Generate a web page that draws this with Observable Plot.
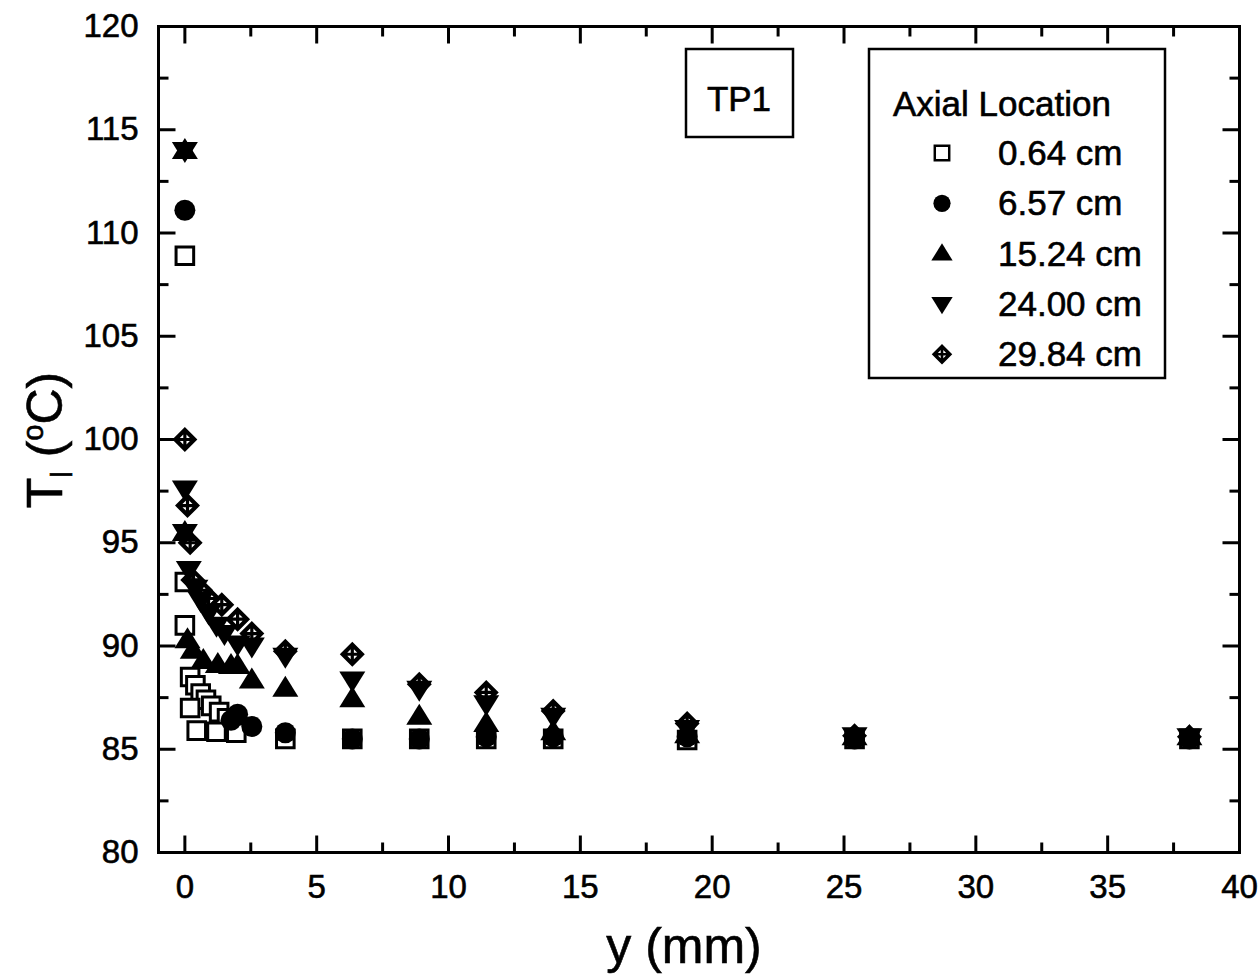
<!DOCTYPE html>
<html><head><meta charset="utf-8">
<script src="https://cdn.jsdelivr.net/npm/d3@7"></script>
<script src="https://cdn.jsdelivr.net/npm/@observablehq/plot@0.6"></script>
<style>
body{margin:0;background:#fff;}
#wrap{width:1260px;height:979px;}
svg text{stroke:#000;stroke-width:0.6px;}
</style></head><body><div id="wrap"></div>
<script>
// ---- data (y in mm, T_l in °C) ----
const seriesNames = ["0.64 cm", "6.57 cm", "15.24 cm", "24.00 cm", "29.84 cm"];

const sqY = [0, 0, 0, 0.2, 0.4, 0.6, 0.8, 1.0, 1.3, 1.6, 0.2, 0.45, 1.2, 1.95, 3.81, 6.35, 8.89, 11.43, 13.97, 19.05, 25.4, 38.1];
const sqT = [108.9, 93.1, 91.0, 88.5, 88.1, 87.7, 87.4, 87.1, 86.8, 86.5, 87.0, 85.9, 85.85, 85.8, 85.5, 85.5, 85.5, 85.5, 85.5, 85.45, 85.5, 85.5];

const ciY = [0, 1.75, 2.0, 2.54, 3.81, 6.35, 8.89, 11.43, 13.97, 19.05, 25.4, 38.1];
const ciT = [111.1, 86.4, 86.7, 86.1, 85.8, 85.5, 85.5, 85.6, 85.6, 85.6, 85.5, 85.5];

const upY = [0, 0, 0.1, 0.3, 0.7, 1.25, 1.75, 2.0, 2.54, 3.81, 6.35, 8.89, 11.43, 13.97, 19.05, 25.4, 38.1];
const upT = [114.0, 95.5, 90.3, 89.8, 89.3, 89.1, 89.05, 89.05, 88.35, 87.95, 87.45, 86.6, 86.25, 85.85, 85.7, 85.6, 85.6];

const dnY = [0, 0, 0, 0.15, 0.4, 0.6, 0.9, 1.2, 1.5, 2.0, 2.54, 3.81, 6.35, 8.89, 11.43, 13.97, 19.05, 25.4, 38.1];
const dnT = [114.0, 97.6, 95.5, 93.7, 92.8, 92.2, 91.6, 91.0, 90.6, 90.1, 90.0, 89.5, 88.35, 87.9, 87.2, 86.6, 86.0, 85.65, 85.6];

const dmY = [0, 0.1, 0.2, 0.3, 0.6, 0.9, 1.4, 2.0, 2.54, 3.81, 6.35, 8.89, 11.43, 13.97, 19.05, 25.4, 38.1];
const dmT = [100.0, 96.8, 95.0, 93.2, 92.7, 92.3, 92.0, 91.3, 90.6, 89.75, 89.6, 88.15, 87.75, 86.85, 86.25, 85.65, 85.6];

const xDomain = [-1, 40];
const yDomain = [80, 120];
const xTickValues = [0, 5, 10, 15, 20, 25, 30, 35, 40];
const xMinorValues = [2.5, 7.5, 12.5, 17.5, 22.5, 27.5, 32.5, 37.5];
const yTickValues = [80, 85, 90, 95, 100, 105, 110, 115, 120];
const yMinorValues = [82.5, 87.5, 92.5, 97.5, 102.5, 107.5, 112.5, 117.5];

const xLabel = "y (mm)";
const legendTitle = "Axial Location";
const panelLabel = "TP1";

// ---- symbols ----
const mk = fn => ({draw(c) { fn(c); }});
const squareSym = mk(c => { const h = 8.8; c.moveTo(-h, -h); c.lineTo(h, -h); c.lineTo(h, h); c.lineTo(-h, h); c.closePath(); });
const circleSym = mk(c => { c.moveTo(10.5, 0); c.arc(0, 0, 10.5, 0, 2 * Math.PI); c.closePath(); });
const upSym = mk(c => { c.moveTo(0, -12.5); c.lineTo(13, 8.5); c.lineTo(-13, 8.5); c.closePath(); });
const downSym = mk(c => { c.moveTo(0, 12.5); c.lineTo(13, -8.5); c.lineTo(-13, -8.5); c.closePath(); });
const diamondSym = mk(c => {
  const R = 12.5, r = 6.6, g = 1.6;
  c.moveTo(0, -R); c.lineTo(R, 0); c.lineTo(0, R); c.lineTo(-R, 0); c.closePath();
  for (const [sx, sy] of [[1, -1], [1, 1], [-1, 1], [-1, -1]]) {
    let pts = [[sx * g, sy * g], [sx * g, sy * (r - g)], [sx * (r - g), sy * g]];
    let a = 0;
    for (let i = 0; i < 3; i++) { const p = pts[i], q = pts[(i + 1) % 3]; a += p[0] * q[1] - q[0] * p[1]; }
    if (a > 0) pts = [pts[0], pts[2], pts[1]];
    c.moveTo(pts[0][0], pts[0][1]); c.lineTo(pts[1][0], pts[1][1]); c.lineTo(pts[2][0], pts[2][1]); c.closePath();
  }
});
const tickSym = (dx, dy) => ({draw(c) { c.moveTo(0, 0); c.lineTo(dx, dy); }});

const rows = (ys, ts) => ys.map((y, i) => ({y, T: ts[i]}));

const series = [
  {name: seriesNames[0], data: rows(sqY, sqT), symbol: squareSym, fill: "white", stroke: "black", sw: 3},
  {name: seriesNames[4], data: rows(dmY, dmT), symbol: diamondSym, fill: "black", stroke: "none", sw: 0},
  {name: seriesNames[1], data: rows(ciY, ciT), symbol: circleSym, fill: "black", stroke: "none", sw: 0},
  {name: seriesNames[2], data: rows(upY, upT), symbol: upSym, fill: "black", stroke: "none", sw: 0},
  {name: seriesNames[3], data: rows(dnY, dnT), symbol: downSym, fill: "black", stroke: "none", sw: 0}
];

const MAJ = 17, MIN = 10;
const tk = (vals, ch, anchor, dx, dy) => Plot.dot(vals, {[ch]: d => d, frameAnchor: anchor, symbol: tickSym(dx, dy), fill: "none", stroke: "black", strokeWidth: 3});
const tickMarks = [
  tk(xTickValues, "x", "bottom", 0, -MAJ), tk(xMinorValues, "x", "bottom", 0, -MIN),
  tk(xTickValues, "x", "top", 0, MAJ), tk(xMinorValues, "x", "top", 0, MIN),
  tk(yTickValues, "y", "left", MAJ, 0), tk(yMinorValues, "y", "left", MIN, 0),
  tk(yTickValues, "y", "right", -MAJ, 0), tk(yMinorValues, "y", "right", -MIN, 0)
];

const plot = Plot.plot({
  width: 1260, height: 979,
  marginLeft: 158, marginRight: 21, marginTop: 26, marginBottom: 127,
  x: {domain: xDomain},
  y: {domain: yDomain},
  style: {fontFamily: "'Liberation Sans', Arial, Helvetica, sans-serif", fontSize: "33px", color: "black", background: "white"},
  marks: [
    Plot.axisX(xTickValues, {anchor: "bottom", tickSize: 0, tickPadding: 22, fontSize: 33, label: null}),
    Plot.axisY(yTickValues, {anchor: "left", tickSize: 0, tickPadding: 20, fontSize: 33, label: null}),
    ...series.map(s => Plot.dot(s.data, {x: "y", y: "T", symbol: s.symbol, fill: s.fill, stroke: s.stroke, strokeWidth: s.sw, r: 8})),
    ...tickMarks,
    Plot.frame({stroke: "black", strokeWidth: 3}),
    Plot.text([xLabel], {text: d => d, frameAnchor: "bottom", dx: -15, dy: 110, fontSize: 50, fill: "black"})
  ]
});
document.getElementById("wrap").appendChild(plot);

// ---- y-axis title with subscript ----
const svg = d3.select(plot);
const yt = svg.append("text")
  .attr("transform", "translate(62,440) rotate(-90)")
  .attr("text-anchor", "middle")
  .attr("font-size", 50)
  .attr("fill", "black");
yt.append("tspan").text("T");
yt.append("tspan").attr("font-size", 29).attr("dy", 10).text("l");
yt.append("tspan").attr("dy", -10).text(" (");
yt.append("tspan").attr("font-size", 29).attr("dy", -19).text("o");
yt.append("tspan").attr("dy", 19).text("C)");

// ---- TP1 box ----
const tp = svg.append("g");
tp.append("rect").attr("x", 686).attr("y", 49).attr("width", 107).attr("height", 88)
  .attr("fill", "white").attr("stroke", "black").attr("stroke-width", 2.5);
tp.append("text").attr("x", 739).attr("y", 111).attr("text-anchor", "middle")
  .attr("font-size", 35).attr("fill", "black").text(panelLabel);

// ---- legend ----
const lg = svg.append("g");
lg.append("rect").attr("x", 869).attr("y", 49).attr("width", 296).attr("height", 329)
  .attr("fill", "white").attr("stroke", "black").attr("stroke-width", 2.5);
lg.append("text").attr("x", 893).attr("y", 116).attr("text-anchor", "start")
  .attr("font-size", 35).attr("fill", "black").text(legendTitle);
const legendOrder = [series[0], series[2], series[3], series[4], series[1]];
legendOrder.forEach((s, i) => {
  const cy = 153 + i * 50.3;
  const p = d3.path(); s.symbol.draw(p, 0);
  lg.append("path").attr("d", p.toString())
    .attr("transform", `translate(942,${cy}) scale(0.82)`)
    .attr("fill", s.fill).attr("stroke", s.stroke === "none" ? null : s.stroke)
    .attr("stroke-width", s.sw ? 3 : null);
  lg.append("text").attr("x", 998).attr("y", cy + 12).attr("text-anchor", "start")
    .attr("font-size", 35).attr("fill", "black").text(s.name);
});
</script>
</body></html>
